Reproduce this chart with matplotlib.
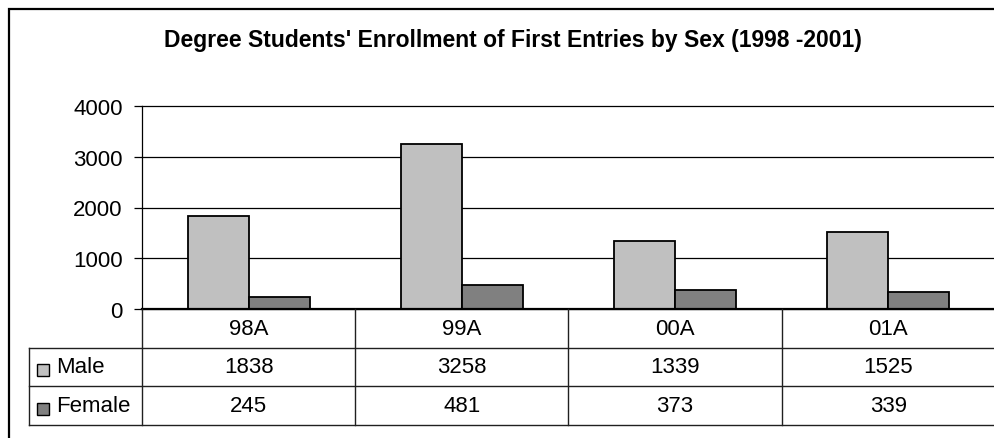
import numpy as np
import matplotlib
matplotlib.use("Agg")
import matplotlib.pyplot as plt
from matplotlib.patches import Rectangle

categories = ["98A", "99A", "00A", "01A"]
male = [1838, 3258, 1339, 1525]
female = [245, 481, 373, 339]
series_names = ["Male", "Female"]
series_colors = ["#c0c0c0", "#808080"]
y_ticks = [0, 1000, 2000, 3000, 4000]
title = "Degree Students' Enrollment of First Entries by Sex (1998 -2001)"

plt.rcParams['font.family'] = ['Liberation Sans', 'DejaVu Sans']

W, H = 995, 439
fig = plt.figure(figsize=(W / 100, H / 100), dpi=100)


def box(l, t, r, b):
    # pixel box -> figure fraction [left, bottom, width, height]
    return [l / W, 1 - b / H, (r - l) / W, (b - t) / H]


# outer chart border (clipped on the right and bottom like the source)
fig.patches.append(Rectangle((9 / W, -0.1), 1.2, 1.1 - 10 / H, fill=False,
                             edgecolor='black', linewidth=1.6,
                             transform=fig.transFigure))

fig.text(513 / W, 1 - 40 / H, title, ha='center', va='center',
         fontsize=16.5, fontweight='bold')

# bar chart
ax = fig.add_axes(box(142, 107, 995, 310))
x = np.arange(len(categories))
bw = 0.286
ax.bar(x - bw / 2, male, bw, color=series_colors[0], edgecolor='black', linewidth=1.3)
ax.bar(x + bw / 2, female, bw, color=series_colors[1], edgecolor='black', linewidth=1.3)
ax.set_xlim(-0.5, len(categories) - 0.5)
ax.set_ylim(0, 4000)
ax.set_yticks(y_ticks)
ax.set_xticks([])
ax.yaxis.grid(True, color='black', linewidth=0.9)
ax.set_axisbelow(True)
for s in ['top', 'right']:
    ax.spines[s].set_visible(False)
ax.spines['left'].set_linewidth(0.9)
ax.spines['bottom'].set_linewidth(1.6)
ax.tick_params(axis='y', length=6, width=0.9, pad=8, labelsize=16)
for gl in ax.get_ygridlines():
    gl.set_clip_on(False)

# data table under the chart
px_per_unit = (995 - 142) / len(categories)
left = -0.5 - (142 - 29) / px_per_unit
right = len(categories) - 0.5
tab = fig.add_axes(box(29, 310, 995, 426))
tab.set_xlim(left, right)
tab.set_ylim(3, 0)
tab.axis('off')

lc = '#202020'
for xv in np.arange(-0.5, len(categories), 1.0):
    tab.plot([xv, xv], [0, 3], color=lc, lw=1, clip_on=False)
tab.plot([left, left], [1, 3], color=lc, lw=1, clip_on=False)
for yv in [1, 2, 3]:
    tab.plot([left, right + 1], [yv, yv], color=lc, lw=1, clip_on=False)

for i, c in enumerate(categories):
    tab.text(i, 0.5, c, ha='center', va='center', fontsize=16)

for r, (vals, name, col) in enumerate(zip([male, female], series_names, series_colors)):
    yc = r + 1.5
    for i, v in enumerate(vals):
        tab.text(i, yc, str(v), ha='center', va='center', fontsize=16)
    tab.plot([left + (43 - 29) / px_per_unit], [yc + 0.08], marker='s', markersize=8.5,
             markerfacecolor=col, markeredgecolor='black', markeredgewidth=1, clip_on=False)
    tab.text(left + (56 - 29) / px_per_unit, yc, name, ha='left', va='center', fontsize=16)

fig.savefig('out.png', dpi=100)
